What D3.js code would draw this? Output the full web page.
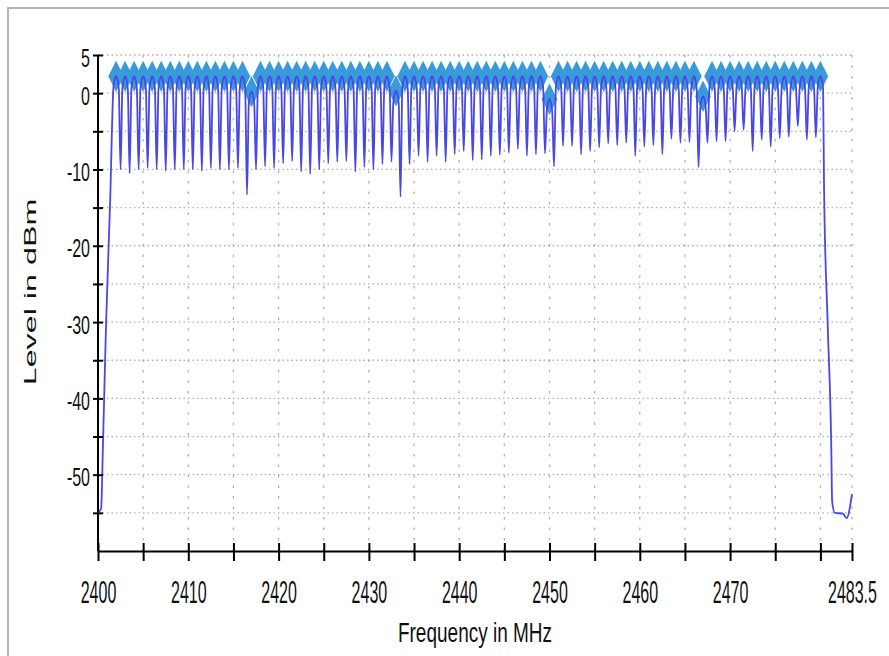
<!DOCTYPE html>
<html>
<head>
<meta charset="utf-8">
<script src="https://cdn.jsdelivr.net/npm/d3@7"></script>
<style>
body { margin: 0; background: #fff; }
text { font-family: 'Liberation Sans', Arial, sans-serif; fill: #111; }
</style>
</head>
<body>
<div class="canvas"></div>
<script>
// hop channels (MHz)
const channels = [
    2402, 2403, 2404, 2405, 2406, 2407, 2408, 2409, 2410, 2411,
    2412, 2413, 2414, 2415, 2416, 2417, 2418, 2419, 2420, 2421,
    2422, 2423, 2424, 2425, 2426, 2427, 2428, 2429, 2430, 2431,
    2432, 2433, 2434, 2435, 2436, 2437, 2438, 2439, 2440, 2441,
    2442, 2443, 2444, 2445, 2446, 2447, 2448, 2449, 2450, 2451,
    2452, 2453, 2454, 2455, 2456, 2457, 2458, 2459, 2460, 2461,
    2462, 2463, 2464, 2465, 2466, 2467, 2468, 2469, 2470, 2471,
    2472, 2473, 2474, 2475, 2476, 2477, 2478, 2479, 2480
];

// peak level of each channel (dBm), marked with a diamond
const peakLevels = [
    2.2, 2.2, 2.2, 2.2, 2.2, 2.2, 2.2, 2.2, 2.2, 2.2,
    2.2, 2.2, 2.2, 2.2, 2.2, 0.2, 2.2, 2.2, 2.2, 2.2,
    2.2, 2.2, 2.2, 2.2, 2.2, 2.2, 2.2, 2.2, 2.2, 2.2,
    2.2, 0.3, 2.2, 2.2, 2.2, 2.2, 2.2, 2.2, 2.2, 2.2,
    2.2, 2.2, 2.2, 2.2, 2.2, 2.2, 2.2, 2.2, -0.8, 2.2,
    2.2, 2.2, 2.2, 2.2, 2.2, 2.2, 2.2, 2.2, 2.2, 2.2,
    2.2, 2.2, 2.2, 2.2, 2.2, -0.4, 2.2, 2.2, 2.2, 2.2,
    2.2, 2.2, 2.2, 2.2, 2.2, 2.2, 2.2, 2.2, 2.2
];

// minimum level between two neighbouring channels (2402.5 ... 2479.5)
const dipLevels = [
    -10.0, -10.5, -10.0, -9.8, -10.0, -10.2, -10.0, -10.0, -10.0, -10.2,
    -9.8, -10.0, -10.0, -9.8, -13.3, -10.0, -9.6, -9.8, -9.2, -8.9,
    -10.3, -10.6, -10.0, -9.2, -9.0, -8.9, -10.3, -9.7, -10.0, -9.3,
    -9.0, -13.6, -9.3, -8.2, -9.0, -8.2, -9.0, -8.0, -7.6, -8.8,
    -8.7, -8.2, -8.1, -7.8, -7.3, -8.2, -8.0, -7.9, -9.6, -6.9,
    -6.9, -8.0, -7.6, -7.1, -6.6, -6.8, -6.5, -8.2, -7.0, -6.8,
    -8.0, -6.0, -6.5, -6.4, -9.7, -6.5, -6.3, -6.3, -5.0, -4.8,
    -7.6, -6.1, -7.0, -5.9, -5.7, -4.3, -6.1, -5.8
];

// band edges [MHz, dBm]
const leadIn = [[2400, -55], [2400.35, -54.4], [2400.55, -46], [2400.9, -30], [2401.35, -14]];
const tailOut = [[2480.4, -12], [2480.8, -30], [2481.2, -46], [2481.3, -53.5], [2481.6, -55], [2482.5, -55.1], [2482.9, -55.7], [2483.5, -52.5]];

const xTicks = [2400, 2405, 2410, 2415, 2420, 2425, 2430, 2435, 2440, 2445, 2450, 2455, 2460, 2465, 2470, 2475, 2480, 2483.5];
const xLabels = ['2400', '2410', '2420', '2430', '2440', '2450', '2460', '2470', '2483.5'];
const yTicks = [5, 0, -5, -10, -15, -20, -25, -30, -35, -40, -45, -50, -55];
const yLabels = ['5', '0', '-10', '-20', '-30', '-40', '-50'];

const width = 889;
const height = 656;
const margin = {top: 55, right: 37, bottom: 105, left: 98};
const graphWidth = width - margin.left - margin.right;
const graphHeight = height - margin.top - margin.bottom;

const svg = d3.select('.canvas')
    .append('svg')
    .attr('width', width)
    .attr('height', height);

// outer panel frame
svg.append('rect')
    .attr('x', 8)
    .attr('y', 8)
    .attr('width', 1000)
    .attr('height', 1000)
    .attr('fill', 'none')
    .attr('stroke', '#b4b4b4')
    .attr('stroke-width', 2);

const graph = svg.append('g')
    .attr('transform', `translate(${margin.left}, ${margin.top})`);

const x = d3.scaleLinear().domain([2400, 2483.5]).range([0, graphWidth]);
const y = d3.scaleLinear().domain([-60, 5]).range([graphHeight, 0]);

// grid
graph.append('g')
    .selectAll('line')
    .data(yTicks)
    .enter()
    .append('line')
    .attr('x1', 0)
    .attr('x2', graphWidth)
    .attr('y1', d => y(d))
    .attr('y2', d => y(d))
    .attr('stroke', '#b0b0b0')
    .attr('stroke-width', 1.3)
    .attr('stroke-dasharray', '1.5,3');

graph.append('g')
    .selectAll('line')
    .data(xTicks.filter(d => d !== 2400))
    .enter()
    .append('line')
    .attr('x1', d => x(d))
    .attr('x2', d => x(d))
    .attr('y1', y(5))
    .attr('y2', graphHeight)
    .attr('stroke', '#b0b0b0')
    .attr('stroke-width', 1.3)
    .attr('stroke-dasharray', '2.5,8');

// trace points
const trace = leadIn.slice();
channels.forEach((c, i) => {
    const pk = peakLevels[i];
    if (i > 0) trace.push([c - 0.5, dipLevels[i - 1]]);
    trace.push([c - 0.3, pk - 1.6], [c - 0.15, pk - 0.4], [c, pk], [c + 0.15, pk - 0.4], [c + 0.3, pk - 1.6]);
});
tailOut.forEach(p => trace.push(p));

// peak markers
const diamond = d3.symbol().type(d3.symbolDiamond).size(285);

graph.append('g')
    .selectAll('path')
    .data(channels)
    .enter()
    .append('path')
    .attr('d', diamond)
    .attr('transform', (d, i) => `translate(${x(d)}, ${y(peakLevels[i])}) scale(0.85, 1)`)
    .attr('fill', '#3899db');

const line = d3.line()
    .x(d => x(d[0]))
    .y(d => y(d[1]))
    .curve(d3.curveMonotoneX);

graph.append('path')
    .datum(trace)
    .attr('fill', 'none')
    .attr('stroke', '#4848e4')
    .attr('stroke-width', 1.8)
    .attr('stroke-linejoin', 'round')
    .attr('d', line);

// axes
const xAxis = d3.axisBottom(x)
    .tickValues(xTicks)
    .tickSizeOuter(0)
    .tickFormat(d => xLabels.includes(String(d)) ? String(d) : '');

const yAxis = d3.axisLeft(y)
    .tickValues(yTicks)
    .tickSizeOuter(0)
    .tickFormat(d => yLabels.includes(String(d)) ? String(d) : '');

const xAxisGroup = graph.append('g')
    .attr('transform', `translate(0, ${graphHeight})`)
    .call(xAxis);

const yAxisGroup = graph.append('g')
    .call(yAxis);

yAxisGroup.select('.domain')
    .attr('d', `M0,${y(5)}V${graphHeight}`);

[xAxisGroup, yAxisGroup].forEach(g => {
    g.select('.domain').attr('stroke', '#000').attr('stroke-width', 2);
    g.selectAll('.tick line').attr('stroke', '#000').attr('stroke-width', 2);
});

xAxisGroup.selectAll('.tick line')
    .attr('y1', -8)
    .attr('y2', 10);

xAxisGroup.selectAll('text')
    .attr('y', 0)
    .attr('dy', null)
    .attr('font-size', 16)
    .attr('font-family', "'Liberation Sans', Arial, sans-serif")
    .attr('fill', '#111')
    .attr('transform', 'translate(0, 52) scale(1, 1.95)');

yAxisGroup.selectAll('.tick line')
    .attr('x1', -5)
    .attr('x2', 5);

yAxisGroup.selectAll('text')
    .attr('x', 0)
    .attr('dy', null)
    .attr('font-size', 16)
    .attr('font-family', "'Liberation Sans', Arial, sans-serif")
    .attr('fill', '#111')
    .attr('transform', 'translate(-8, 11) scale(1, 1.65)');

// axis titles
svg.append('text')
    .attr('transform', 'translate(36, 292) rotate(-90) scale(1.9, 1)')
    .attr('text-anchor', 'middle')
    .attr('font-size', 17)
    .text('Level in dBm');

svg.append('text')
    .attr('transform', 'translate(475, 642) scale(1, 1.45)')
    .attr('text-anchor', 'middle')
    .attr('font-size', 19)
    .text('Frequency in MHz');
</script>
</body>
</html>
